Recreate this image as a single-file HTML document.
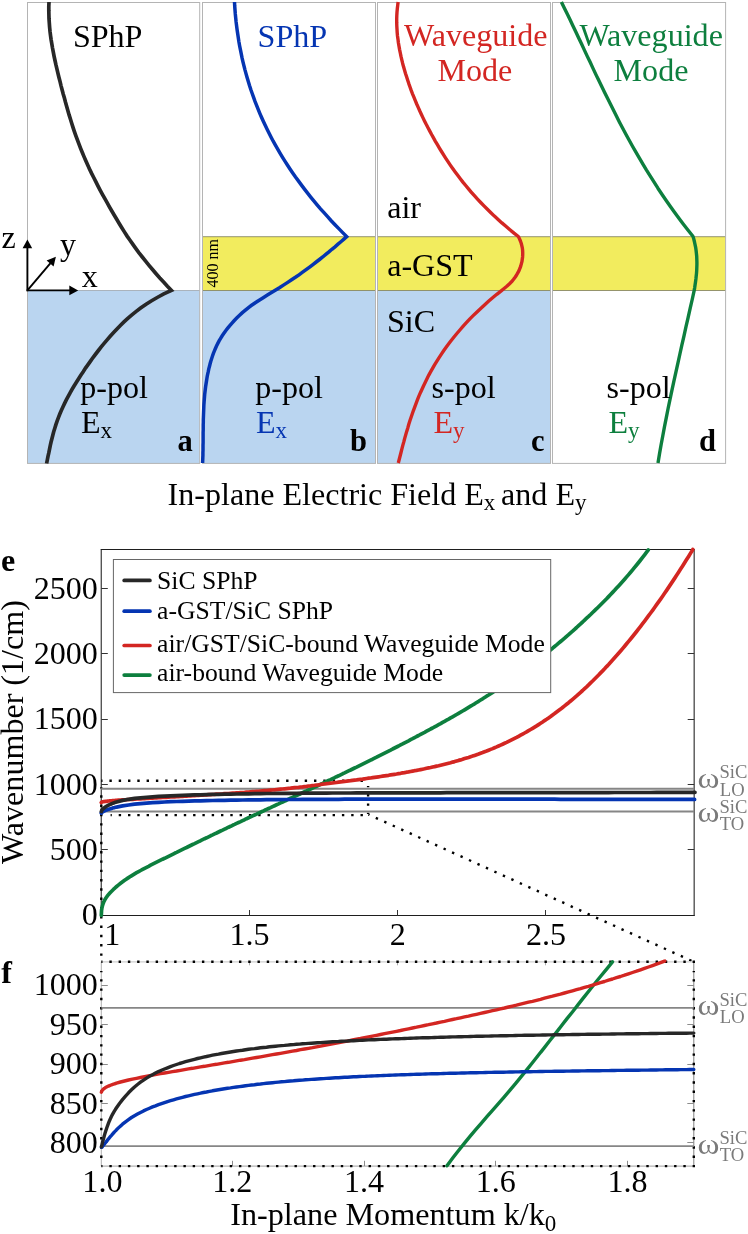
<!DOCTYPE html>
<html><head><meta charset="utf-8"><title>Figure</title>
<style>
html,body{margin:0;padding:0;background:#fff;}
body{width:748px;height:1234px;overflow:hidden;}
svg{display:block;}
text{font-family:"Liberation Serif",serif;}
.b{font-weight:bold;}
</style></head><body>
<svg width="748" height="1234" viewBox="0 0 748 1234">
<rect x="0" y="0" width="748" height="1234" fill="#fff"/>
<g id="all" opacity="0.999">
<rect x="27.50" y="290.50" width="172.20" height="172.90" fill="#bad5f0"/>
<rect x="202.50" y="290.50" width="173.00" height="172.90" fill="#bad5f0"/>
<rect x="377.50" y="290.50" width="173.00" height="172.90" fill="#bad5f0"/>
<rect x="202.50" y="236.70" width="173.00" height="53.80" fill="#f2ec5e"/>
<path d="M202.50 236.70H375.50M202.50 290.50H375.50" stroke="#6c6c50" stroke-width="0.7" fill="none"/>
<rect x="377.50" y="236.70" width="173.00" height="53.80" fill="#f2ec5e"/>
<path d="M377.50 236.70H550.50M377.50 290.50H550.50" stroke="#6c6c50" stroke-width="0.7" fill="none"/>
<rect x="552.50" y="236.70" width="173.10" height="53.80" fill="#f2ec5e"/>
<path d="M552.50 236.70H725.60M552.50 290.50H725.60" stroke="#6c6c50" stroke-width="0.7" fill="none"/>
<path d="M27.50 290.50H199.70" stroke="#8a8f96" stroke-width="0.6" fill="none"/>
<rect x="27.50" y="2.50" width="172.20" height="460.90" fill="none" stroke="#b4b4b4" stroke-width="1"/>
<rect x="202.50" y="2.50" width="173.00" height="460.90" fill="none" stroke="#b4b4b4" stroke-width="1"/>
<rect x="377.50" y="2.50" width="173.00" height="460.90" fill="none" stroke="#b4b4b4" stroke-width="1"/>
<rect x="552.50" y="2.50" width="173.10" height="460.90" fill="none" stroke="#b4b4b4" stroke-width="1"/>
<path d="M49.0 2.0L48.8 6.2L48.8 10.4L48.9 14.5L49.0 18.7L49.3 22.9L49.6 27.1L50.0 31.3L50.5 35.4L51.1 39.6L51.8 43.8L52.5 48.0L53.3 52.2L54.1 56.3L55.0 60.5L55.9 64.7L56.9 68.9L57.9 73.1L58.9 77.2L60.0 81.4L61.0 85.6L62.1 89.8L63.2 94.0L64.4 98.1L65.5 102.3L66.7 106.5L67.9 110.7L69.1 114.9L70.4 119.0L71.7 123.2L73.0 127.4L74.4 131.6L75.9 135.8L77.4 139.9L79.0 144.1L80.6 148.3L82.3 152.5L84.0 156.6L85.8 160.8L87.7 165.0L89.6 169.2L91.6 173.4L93.7 177.5L95.8 181.7L97.9 185.9L100.1 190.1L102.4 194.3L104.7 198.4L107.1 202.6L109.4 206.8L111.8 211.0L114.3 215.2L116.7 219.3L119.2 223.5L121.8 227.7L124.4 231.9L127.1 236.1L130.0 240.2L132.9 244.4L135.9 248.6L139.0 252.8L142.3 257.0L145.6 261.1L149.0 265.3L152.5 269.5L156.1 273.7L159.8 277.9L163.6 282.0L167.4 286.2L171.4 290.4L163.8 293.9L157.2 297.5L151.2 301.0L145.7 304.5L140.6 308.1L135.9 311.6L131.6 315.1L127.5 318.7L123.7 322.2L120.1 325.7L116.7 329.3L113.4 332.8L110.2 336.3L107.1 339.9L104.1 343.4L101.2 346.9L98.4 350.5L95.7 354.0L93.0 357.5L90.5 361.1L88.0 364.6L85.5 368.1L83.2 371.7L80.8 375.2L78.6 378.7L76.4 382.2L74.2 385.8L72.1 389.3L70.1 392.8L68.2 396.4L66.3 399.9L64.6 403.4L62.9 407.0L61.3 410.5L59.8 414.0L58.4 417.6L57.1 421.1L55.9 424.6L54.8 428.2L53.7 431.7L52.8 435.2L51.9 438.8L51.0 442.3L50.2 445.8L49.5 449.4L48.8 452.9L48.0 456.4L47.3 460.0L46.6 463.5" fill="none" stroke="#272727" stroke-width="3.7" stroke-linejoin="miter" stroke-miterlimit="10"/>
<path d="M234.5 2.0L234.7 6.0L235.0 10.0L235.3 13.9L235.7 17.9L236.1 21.9L236.6 25.9L237.1 29.8L237.7 33.8L238.3 37.8L238.9 41.8L239.6 45.7L240.4 49.7L241.2 53.7L242.0 57.7L242.9 61.6L243.9 65.6L244.9 69.6L246.0 73.6L247.1 77.5L248.3 81.5L249.5 85.5L250.8 89.5L252.2 93.5L253.6 97.4L255.0 101.4L256.6 105.4L258.2 109.4L259.8 113.3L261.5 117.3L263.3 121.3L265.2 125.3L267.1 129.2L269.1 133.2L271.1 137.2L273.2 141.2L275.4 145.1L277.7 149.1L280.0 153.1L282.4 157.1L284.9 161.1L287.4 165.0L290.0 169.0L292.7 173.0L295.5 177.0L298.4 180.9L301.3 184.9L304.3 188.9L307.4 192.9L310.5 196.8L313.8 200.8L317.1 204.8L320.5 208.8L324.0 212.7L327.6 216.7L331.2 220.7L335.0 224.7L338.8 228.6L342.7 232.6L346.7 236.6L343.9 239.1L340.9 241.7L338.0 244.2L335.0 246.8L331.9 249.3L328.9 251.9L325.8 254.4L322.7 257.0L319.5 259.5L316.2 262.0L312.9 264.6L309.6 267.1L306.1 269.7L302.6 272.2L299.0 274.8L295.4 277.3L291.6 279.8L287.7 282.4L283.8 284.9L279.8 287.5L275.7 290.0L271.5 292.6L267.4 295.1L263.2 297.7L259.2 300.2L255.3 302.7L251.6 305.3L248.2 307.8L245.1 310.4L242.1 312.9L239.3 315.5L236.7 318.0L234.3 320.5L232.0 323.1L229.8 325.6L227.7 328.2L225.7 330.7L223.9 333.3L222.2 335.8L220.6 338.4L219.1 340.9L217.8 343.4L216.5 346.0L215.4 348.5L214.3 351.1L213.3 353.6L212.4 356.2L211.6 358.7L210.8 361.2L210.1 363.8L209.5 366.3L208.8 368.9L208.3 371.4L207.7 374.0L207.2 376.5L206.8 379.1L206.4 381.6L206.0 384.1L205.6 386.7L205.3 389.2L205.0 391.8L204.7 394.3L204.5 396.9L204.3 399.4L204.1 401.9L203.9 404.5L203.8 407.0L203.7 409.6L203.6 412.1L203.5 414.7L203.4 417.2L203.3 419.8L203.3 422.3L203.2 424.8L203.2 427.4L203.2 429.9L203.1 432.5L203.1 435.0L203.1 437.6L203.1 440.1L203.1 442.6L203.0 445.2L203.0 447.7L203.0 450.3L202.9 452.8L202.9 455.4L202.8 457.9L202.7 460.5L202.6 463.0" fill="none" stroke="#0535b2" stroke-width="3.5" stroke-linejoin="miter" stroke-miterlimit="10"/>
<path d="M398.1 2.0L397.7 5.4L397.3 8.8L397.0 12.2L396.8 15.6L396.7 19.0L396.7 22.4L396.8 25.8L397.0 29.2L397.2 32.6L397.5 36.0L398.0 39.4L398.4 42.8L399.0 46.2L399.6 49.6L400.3 53.0L401.0 56.4L401.8 59.8L402.6 63.2L403.5 66.6L404.5 70.0L405.5 73.4L406.6 76.8L407.7 80.2L408.8 83.6L410.0 87.0L411.2 90.4L412.5 93.8L413.9 97.2L415.3 100.6L416.7 104.0L418.2 107.4L419.7 110.8L421.3 114.2L422.9 117.6L424.5 120.9L426.2 124.3L428.0 127.7L429.8 131.1L431.6 134.5L433.5 137.9L435.4 141.3L437.4 144.7L439.4 148.1L441.5 151.5L443.6 154.9L445.8 158.3L448.0 161.7L450.3 165.1L452.7 168.5L455.2 171.9L457.7 175.3L460.3 178.7L462.9 182.1L465.7 185.5L468.5 188.9L471.4 192.3L474.4 195.7L477.5 199.1L480.7 202.5L484.0 205.9L487.4 209.3L490.9 212.7L494.4 216.1L498.1 219.5L501.9 222.9L505.9 226.3L509.9 229.7L514.0 233.1L518.3 236.5L519.5 238.8L520.4 241.0L521.2 243.3L521.8 245.6L522.3 247.8L522.6 250.1L522.7 252.3L522.7 254.6L522.6 256.9L522.3 259.1L522.0 261.4L521.4 263.6L520.8 265.9L520.0 268.2L519.1 270.4L517.9 272.7L516.6 275.0L515.1 277.2L513.4 279.5L511.5 281.8L509.3 284.0L506.8 286.3L504.1 288.5L501.2 290.8L496.8 294.3L492.6 297.8L488.5 301.3L484.5 304.9L480.7 308.4L477.0 311.9L473.4 315.4L469.9 318.9L466.6 322.4L463.4 325.9L460.3 329.5L457.3 333.0L454.4 336.5L451.6 340.0L448.9 343.5L446.3 347.0L443.8 350.5L441.4 354.1L439.1 357.6L436.9 361.1L434.7 364.6L432.7 368.1L430.7 371.6L428.8 375.1L427.0 378.7L425.3 382.2L423.6 385.7L422.0 389.2L420.4 392.7L418.9 396.2L417.5 399.7L416.1 403.3L414.8 406.8L413.5 410.3L412.3 413.8L411.1 417.3L409.9 420.8L408.8 424.3L407.8 427.9L406.7 431.4L405.7 434.9L404.7 438.4L403.8 441.9L402.8 445.4L401.9 448.9L401.0 452.5L400.1 456.0L399.2 459.5L398.3 463.0" fill="none" stroke="#d32622" stroke-width="3.4" stroke-linejoin="round"/>
<path d="M561.4 2.0L564.3 8.0L567.3 14.0L570.2 20.0L573.0 26.0L575.9 32.0L578.7 38.0L581.6 44.1L584.4 50.1L587.2 56.1L590.1 62.1L592.9 68.1L595.7 74.1L598.6 80.1L601.5 86.1L604.4 92.1L607.4 98.1L610.4 104.1L613.4 110.1L616.4 116.1L619.5 122.2L622.7 128.2L625.9 134.2L629.2 140.2L632.5 146.2L635.9 152.2L639.4 158.2L642.9 164.2L646.5 170.2L650.3 176.2L654.1 182.2L657.9 188.2L661.9 194.2L666.0 200.3L670.2 206.3L674.5 212.3L678.9 218.3L683.4 224.3L688.1 230.3L692.9 236.3L693.8 239.1L694.5 242.0L695.1 244.8L695.7 247.7L696.1 250.5L696.4 253.4L696.7 256.2L696.8 259.1L696.9 261.9L696.9 264.8L696.8 267.6L696.7 270.5L696.5 273.3L696.2 276.2L695.9 279.0L695.5 281.9L695.1 284.7L694.7 287.6L694.2 290.4L692.2 299.5L690.1 308.6L688.1 317.7L686.0 326.7L684.0 335.8L681.9 344.9L679.9 354.0L677.9 363.1L675.9 372.2L673.9 381.2L671.9 390.3L670.0 399.4L668.1 408.5L666.3 417.6L664.5 426.7L662.8 435.7L661.1 444.8L659.5 453.9L658.0 463.0" fill="none" stroke="#0d7f3e" stroke-width="3.4" stroke-linejoin="round"/>
<g stroke="#000" stroke-width="1.9" fill="#000">
<path d="M27.4 291.2V246" fill="none"/>
<path d="M26.6 290.4H70" fill="none"/>
<path d="M27.4 290.4L50.5 263.1" fill="none"/>
<path d="M27.4 239.6L32.2 248.2H22.6Z" stroke="none"/>
<path d="M78.2 290.4L69.3 295.2V285.6Z" stroke="none"/>
<path d="M55.9 256.7L53.6 266.6L46.6 260.6Z" stroke="none"/>
</g>
<text x="1.60" y="248.00" font-size="32.10" fill="#000">z</text>
<text x="59.90" y="254.70" font-size="32.10" fill="#000">y</text>
<text x="81.80" y="286.80" font-size="32.10" fill="#000">x</text>
<text x="72.90" y="46.70" font-size="32.10" fill="#000">SPhP</text>
<text x="257.60" y="46.50" font-size="32.10" fill="#0535b2">SPhP</text>
<text x="404.00" y="46.20" font-size="32.10" fill="#d32622">Waveguide</text>
<text x="437.50" y="80.80" font-size="32.10" fill="#d32622">Mode</text>
<text x="579.40" y="46.20" font-size="32.10" fill="#0d7f3e">Waveguide</text>
<text x="613.60" y="80.80" font-size="32.10" fill="#0d7f3e">Mode</text>
<text x="387.20" y="218.40" font-size="32.10" fill="#000">air</text>
<text x="387.20" y="275.70" font-size="32.10" fill="#000">a-GST</text>
<text x="387.00" y="332.10" font-size="32.10" fill="#000">SiC</text>
<text x="80.20" y="398.10" font-size="32.10" fill="#000">p-pol</text>
<text x="255.20" y="398.10" font-size="32.10" fill="#000">p-pol</text>
<text x="431.60" y="398.10" font-size="32.10" fill="#000">s-pol</text>
<text x="606.60" y="398.10" font-size="32.10" fill="#000">s-pol</text>
<text x="81.00" y="433.20" font-size="32.10" fill="#000">E<tspan font-size="23.00" dy="5.1">x</tspan></text>
<text x="256.00" y="433.20" font-size="32.10" fill="#0535b2">E<tspan font-size="23.00" dy="5.1">x</tspan></text>
<text x="433.50" y="433.20" font-size="32.10" fill="#d32622">E<tspan font-size="23.00" dy="5.1">y</tspan></text>
<text x="608.50" y="433.20" font-size="32.10" fill="#0d7f3e">E<tspan font-size="23.00" dy="5.1">y</tspan></text>
<text x="177.60" y="450.50" font-size="30.50" fill="#000" class="b">a</text>
<text x="350.00" y="450.50" font-size="30.50" fill="#000" class="b">b</text>
<text x="531.00" y="450.50" font-size="30.50" fill="#000" class="b">c</text>
<text x="699.00" y="450.50" font-size="30.50" fill="#000" class="b">d</text>
<text transform="translate(217.6 287.4) rotate(-90)" font-size="16">400 nm</text>
<text x="167.6" y="505.3" font-size="32.10">In-plane Electric Field E<tspan font-size="23.00" dy="5.1">x&#160;</tspan><tspan dy="-5.1">and E</tspan><tspan font-size="23.00" dy="5.1">y</tspan></text>
<path d="M101.30 549.50V915.50M694.20 549.50V915.50" stroke="#555" stroke-width="1.4" fill="none"/>
<path d="M100.70 549.50H694.80M102.80 915.50H694.80" stroke="#1e1e1e" stroke-width="1" fill="none"/>
<path d="M101.30 849.50h6.5M694.20 849.50h-6.5M101.30 784.50h6.5M694.20 784.50h-6.5M101.30 719.50h6.5M694.20 719.50h-6.5M101.30 653.50h6.5M694.20 653.50h-6.5M101.30 588.50h6.5M694.20 588.50h-6.5M249.50 915.50v-5.5M397.50 915.50v-5.5M545.50 915.50v-5.5" stroke="#333" stroke-width="1" fill="none"/>
<path d="M101.30 780.80H367.10" stroke="#000" stroke-width="2.4" stroke-dasharray="2.4 6.90" stroke-dashoffset="1.2" fill="none"/>
<path d="M110.60 815.10H367.10" stroke="#000" stroke-width="2.4" stroke-dasharray="2.4 6.90" stroke-dashoffset="1.2" fill="none"/>
<path d="M368.10 786.00V814.10" stroke="#000" stroke-width="2.4" stroke-dasharray="2.4 6.90" stroke-dashoffset="1.2" fill="none"/>
<path d="M101.30 787.20V958.80" stroke="#000" stroke-width="2.4" stroke-dasharray="2.4 6.90" stroke-dashoffset="1.2" fill="none"/>
<path d="M368.40 814.50L693.80 961.80" stroke="#000" stroke-width="2.4" stroke-dasharray="2.4 6.90" stroke-dashoffset="1.2" fill="none"/>
<path d="M101.30 788.70H694.20" stroke="#868686" stroke-width="1.9" fill="none"/>
<path d="M101.30 811.50H694.20" stroke="#868686" stroke-width="1.9" fill="none"/>
<g fill="none" stroke-width="3.7" stroke-linejoin="round" stroke-linecap="round">
<path d="M101.3 915.4L101.5 911.5L101.6 910.0L101.8 908.9L101.9 908.0L102.1 907.2L102.2 906.6L102.4 905.9L102.8 904.5L103.2 903.4L103.6 902.3L104.0 901.4L104.4 900.6L104.8 899.8L105.2 899.1L105.6 898.5L106.6 897.0L107.6 895.6L108.6 894.4L109.6 893.3L110.6 892.2L111.6 891.2L112.6 890.2L113.6 889.2L114.6 888.3L115.6 887.4L116.6 886.5L118.6 884.9L120.6 883.3L122.6 881.8L124.6 880.3L126.6 878.9L128.6 877.6L130.6 876.3L132.6 875.1L134.6 873.9L136.6 872.7L138.6 871.6L140.6 870.5L142.6 869.4L144.6 868.3L146.6 867.3L148.6 866.3L150.6 865.2L152.6 864.2L154.6 863.2L156.6 862.2L158.6 861.2L160.6 860.2L162.6 859.2L164.6 858.3L166.6 857.3L168.6 856.3L170.6 855.3L172.6 854.3L174.6 853.3L176.6 852.4L178.6 851.4L180.6 850.4L182.6 849.4L184.6 848.4L186.6 847.5L188.6 846.5L190.6 845.5L192.6 844.5L194.6 843.6L196.6 842.6L198.6 841.6L200.6 840.7L202.6 839.7L204.6 838.7L206.6 837.8L208.6 836.8L210.6 835.8L212.6 834.9L214.6 833.9L216.6 833.0L218.6 832.0L220.6 831.0L222.6 830.1L224.6 829.1L226.6 828.2L228.6 827.2L230.6 826.3L232.6 825.3L234.6 824.4L236.6 823.4L238.6 822.5L240.6 821.6L242.6 820.6L244.6 819.7L246.6 818.7L248.6 817.8L250.6 816.9L252.6 815.9L254.6 815.0L256.6 814.1L258.6 813.1L260.6 812.2L262.6 811.3L264.6 810.3L266.6 809.4L268.6 808.5L270.6 807.6L272.6 806.6L274.6 805.7L276.6 804.8L278.6 803.9L280.6 802.9L282.6 802.0L284.6 801.1L286.6 800.2L288.6 799.2L290.6 798.3L292.6 797.4L294.6 796.4L296.6 795.5L298.6 794.6L300.6 793.7L302.6 792.7L304.6 791.8L306.6 790.9L308.6 789.9L310.6 789.0L312.6 788.1L314.6 787.1L316.6 786.2L318.6 785.3L320.6 784.3L322.6 783.4L324.6 782.4L326.6 781.5L328.6 780.5L330.6 779.6L332.6 778.6L334.6 777.7L336.6 776.7L338.6 775.8L340.6 774.8L342.6 773.8L344.6 772.9L346.6 771.9L348.6 770.9L350.6 770.0L352.6 769.0L354.6 768.0L356.6 767.1L358.6 766.1L360.6 765.1L362.6 764.1L364.6 763.1L366.6 762.1L368.6 761.1L370.6 760.1L372.6 759.2L374.6 758.2L376.6 757.2L378.6 756.1L380.6 755.1L382.6 754.1L384.6 753.1L386.6 752.1L388.6 751.1L390.6 750.1L392.6 749.0L394.6 748.0L396.6 747.0L398.6 746.0L400.6 744.9L402.6 743.9L404.6 742.8L406.6 741.8L408.6 740.8L410.6 739.7L412.6 738.7L414.6 737.6L416.6 736.5L418.6 735.5L420.6 734.4L422.6 733.3L424.6 732.3L426.6 731.2L428.6 730.1L430.6 729.0L432.6 728.0L434.6 726.9L436.6 725.8L438.6 724.7L440.6 723.6L442.6 722.4L444.6 721.3L446.6 720.2L448.6 719.1L450.6 717.9L452.6 716.8L454.6 715.7L456.6 714.5L458.6 713.3L460.6 712.2L462.6 711.0L464.6 709.8L466.6 708.6L468.6 707.4L470.6 706.2L472.6 705.0L474.6 703.8L476.6 702.5L478.6 701.3L480.6 700.0L482.6 698.8L484.6 697.5L486.6 696.2L488.6 695.0L490.6 693.7L492.6 692.4L494.6 691.0L496.6 689.7L498.6 688.4L500.6 687.0L502.6 685.7L504.6 684.3L506.6 682.9L508.6 681.6L510.6 680.2L512.6 678.8L514.6 677.3L516.6 675.9L518.6 674.5L520.6 673.0L522.6 671.6L524.6 670.1L526.6 668.6L528.6 667.1L530.6 665.6L532.6 664.1L534.6 662.5L536.6 661.0L538.6 659.4L540.6 657.9L542.6 656.3L544.6 654.7L546.6 653.1L548.6 651.5L550.6 649.8L552.6 648.2L554.6 646.5L556.6 644.9L558.6 643.2L560.6 641.5L562.6 639.8L564.6 638.1L566.6 636.3L568.6 634.6L570.6 632.8L572.6 631.1L574.6 629.3L576.6 627.5L578.6 625.6L580.6 623.8L582.6 622.0L584.6 620.1L586.6 618.2L588.6 616.4L590.6 614.5L592.6 612.5L594.6 610.6L596.6 608.7L598.6 606.7L600.6 604.7L602.6 602.7L604.6 600.7L606.6 598.7L608.6 596.6L610.6 594.5L612.6 592.4L614.6 590.3L616.6 588.1L618.6 585.9L620.6 583.7L622.6 581.5L624.6 579.2L626.6 576.9L628.6 574.6L630.6 572.3L632.6 569.9L634.6 567.4L636.6 565.0L638.6 562.5L640.6 560.0L642.6 557.4L644.6 554.8L646.6 552.2L648.3 549.9" stroke="#0d7f3e"/>
<path d="M101.3 813.1L101.5 812.8L101.6 812.6L101.8 812.5L101.9 812.3L102.1 812.2L102.2 812.1L102.4 812.0L102.8 811.8L103.2 811.5L103.6 811.3L104.0 811.1L104.4 810.9L104.8 810.8L105.2 810.6L105.6 810.4L106.6 810.0L107.6 809.6L108.6 809.3L109.6 809.0L110.6 808.7L111.6 808.4L112.6 808.1L113.6 807.8L114.6 807.6L115.6 807.3L116.6 807.1L122.6 805.9L128.6 805.0L134.6 804.2L140.6 803.6L146.6 803.1L152.6 802.7L158.6 802.3L164.6 802.0L170.6 801.7L176.6 801.5L182.6 801.3L188.6 801.1L194.6 800.9L200.6 800.8L206.6 800.6L212.6 800.5L218.6 800.4L224.6 800.3L230.6 800.2L236.6 800.1L242.6 800.0L248.6 799.9L254.6 799.8L260.6 799.8L266.6 799.7L272.6 799.6L278.6 799.6L284.6 799.5L290.6 799.5L296.6 799.5L302.6 799.4L308.6 799.4L314.6 799.4L320.6 799.3L326.6 799.3L332.6 799.3L338.6 799.3L344.6 799.2L350.6 799.2L356.6 799.2L362.6 799.2L368.6 799.2L374.6 799.2L380.6 799.2L386.6 799.2L392.6 799.2L398.6 799.1L404.6 799.1L410.6 799.1L416.6 799.1L422.6 799.1L428.6 799.1L434.6 799.1L440.6 799.1L446.6 799.1L452.6 799.1L458.6 799.2L464.6 799.2L470.6 799.2L476.6 799.2L482.6 799.2L488.6 799.2L494.6 799.2L500.6 799.2L506.6 799.2L512.6 799.2L518.6 799.2L524.6 799.2L530.6 799.2L536.6 799.2L542.6 799.2L548.6 799.2L554.6 799.2L560.6 799.3L566.6 799.3L572.6 799.3L578.6 799.3L584.6 799.3L590.6 799.3L596.6 799.3L602.6 799.3L608.6 799.3L614.6 799.3L620.6 799.3L626.6 799.3L632.6 799.3L638.6 799.3L644.6 799.3L650.6 799.3L656.6 799.3L662.6 799.4L668.6 799.4L674.6 799.4L680.6 799.4L686.6 799.4L692.6 799.4L694.6 799.4" stroke="#0535b2"/>
<path d="M101.3 802.5L101.5 802.3L101.6 802.2L101.8 802.1L101.9 802.1L102.1 802.0L102.2 802.0L102.4 801.9L102.8 801.8L103.2 801.7L103.6 801.7L104.0 801.6L104.4 801.5L104.8 801.5L105.2 801.4L105.6 801.4L106.6 801.3L107.6 801.1L108.6 801.0L109.6 800.9L110.6 800.8L111.6 800.8L112.6 800.7L113.6 800.6L114.6 800.5L115.6 800.4L116.6 800.4L118.6 800.2L120.6 800.1L122.6 799.9L124.6 799.8L126.6 799.7L128.6 799.5L130.6 799.4L132.6 799.3L134.6 799.2L136.6 799.0L138.6 798.9L140.6 798.8L142.6 798.7L144.6 798.6L146.6 798.5L148.6 798.3L150.6 798.2L152.6 798.1L154.6 798.0L156.6 797.9L158.6 797.7L160.6 797.6L162.6 797.5L164.6 797.4L166.6 797.3L168.6 797.2L170.6 797.0L172.6 796.9L174.6 796.8L176.6 796.7L178.6 796.6L180.6 796.5L182.6 796.3L184.6 796.2L186.6 796.1L188.6 796.0L190.6 795.9L192.6 795.7L194.6 795.6L196.6 795.5L198.6 795.4L200.6 795.2L202.6 795.1L204.6 795.0L206.6 794.9L208.6 794.7L210.6 794.6L212.6 794.5L214.6 794.4L216.6 794.2L218.6 794.1L220.6 794.0L222.6 793.9L224.6 793.7L226.6 793.6L228.6 793.5L230.6 793.3L232.6 793.2L234.6 793.1L236.6 792.9L238.6 792.8L240.6 792.6L242.6 792.5L244.6 792.4L246.6 792.2L248.6 792.1L250.6 791.9L252.6 791.7L254.6 791.6L256.6 791.4L258.6 791.3L260.6 791.1L262.6 790.9L264.6 790.7L266.6 790.6L268.6 790.4L270.6 790.2L272.6 790.0L274.6 789.8L276.6 789.6L278.6 789.4L280.6 789.2L282.6 789.0L284.6 788.8L286.6 788.6L288.6 788.4L290.6 788.2L292.6 787.9L294.6 787.7L296.6 787.5L298.6 787.3L300.6 787.0L302.6 786.8L304.6 786.5L306.6 786.3L308.6 786.0L310.6 785.8L312.6 785.5L314.6 785.3L316.6 785.0L318.6 784.8L320.6 784.5L322.6 784.2L324.6 784.0L326.6 783.7L328.6 783.5L330.6 783.2L332.6 783.0L334.6 782.7L336.6 782.5L338.6 782.2L340.6 781.9L342.6 781.7L344.6 781.4L346.6 781.2L348.6 780.9L350.6 780.7L352.6 780.4L354.6 780.1L356.6 779.9L358.6 779.6L360.6 779.3L362.6 779.1L364.6 778.8L366.6 778.5L368.6 778.2L370.6 778.0L372.6 777.7L374.6 777.4L376.6 777.1L378.6 776.8L380.6 776.5L382.6 776.2L384.6 775.9L386.6 775.6L388.6 775.3L390.6 774.9L392.6 774.6L394.6 774.3L396.6 774.0L398.6 773.6L400.6 773.3L402.6 772.9L404.6 772.6L406.6 772.2L408.6 771.9L410.6 771.5L412.6 771.1L414.6 770.7L416.6 770.4L418.6 770.0L420.6 769.6L422.6 769.2L424.6 768.8L426.6 768.3L428.6 767.9L430.6 767.5L432.6 767.0L434.6 766.6L436.6 766.1L438.6 765.7L440.6 765.2L442.6 764.7L444.6 764.2L446.6 763.7L448.6 763.2L450.6 762.7L452.6 762.1L454.6 761.6L456.6 761.0L458.6 760.4L460.6 759.9L462.6 759.3L464.6 758.6L466.6 758.0L468.6 757.4L470.6 756.7L472.6 756.1L474.6 755.4L476.6 754.7L478.6 754.0L480.6 753.2L482.6 752.5L484.6 751.7L486.6 751.0L488.6 750.2L490.6 749.4L492.6 748.6L494.6 747.7L496.6 746.9L498.6 746.0L500.6 745.1L502.6 744.2L504.6 743.3L506.6 742.4L508.6 741.4L510.6 740.4L512.6 739.4L514.6 738.4L516.6 737.4L518.6 736.3L520.6 735.2L522.6 734.1L524.6 733.0L526.6 731.9L528.6 730.7L530.6 729.5L532.6 728.3L534.6 727.1L536.6 725.9L538.6 724.6L540.6 723.3L542.6 722.0L544.6 720.6L546.6 719.3L548.6 717.9L550.6 716.5L552.6 715.0L554.6 713.6L556.6 712.1L558.6 710.6L560.6 709.1L562.6 707.5L564.6 705.9L566.6 704.3L568.6 702.7L570.6 701.0L572.6 699.3L574.6 697.6L576.6 695.9L578.6 694.1L580.6 692.3L582.6 690.5L584.6 688.6L586.6 686.8L588.6 684.9L590.6 682.9L592.6 681.0L594.6 679.0L596.6 677.0L598.6 675.0L600.6 672.9L602.6 670.9L604.6 668.8L606.6 666.6L608.6 664.5L610.6 662.3L612.6 660.1L614.6 657.8L616.6 655.6L618.6 653.3L620.6 651.0L622.6 648.6L624.6 646.2L626.6 643.8L628.6 641.4L630.6 639.0L632.6 636.5L634.6 634.0L636.6 631.5L638.6 628.9L640.6 626.3L642.6 623.7L644.6 621.1L646.6 618.4L648.6 615.7L650.6 613.0L652.6 610.3L654.6 607.5L656.6 604.7L658.6 601.9L660.6 599.1L662.6 596.2L664.6 593.3L666.6 590.4L668.6 587.4L670.6 584.4L672.6 581.4L674.6 578.4L676.6 575.3L678.6 572.2L680.6 569.1L682.6 566.0L684.6 562.8L686.6 559.6L688.6 556.4L690.6 553.1L692.6 549.9L692.8 549.5" stroke="#d32622"/>
<path d="M101.3 811.6L101.5 811.0L101.6 810.6L101.8 810.4L101.9 810.2L102.1 810.0L102.2 809.8L102.4 809.6L102.8 809.1L103.2 808.8L103.6 808.4L104.0 808.0L104.4 807.7L104.8 807.4L105.2 807.1L105.6 806.9L106.6 806.2L107.6 805.7L108.6 805.1L109.6 804.6L110.6 804.2L111.6 803.8L112.6 803.4L113.6 803.0L114.6 802.6L115.6 802.3L116.6 802.0L122.6 800.4L128.6 799.3L134.6 798.4L140.6 797.8L146.6 797.3L152.6 796.8L158.6 796.4L164.6 796.1L170.6 795.8L176.6 795.6L182.6 795.3L188.6 795.1L194.6 794.9L200.6 794.8L206.6 794.6L212.6 794.4L218.6 794.3L224.6 794.2L230.6 794.1L236.6 794.0L242.6 793.9L248.6 793.8L254.6 793.7L260.6 793.6L266.6 793.5L272.6 793.5L278.6 793.4L284.6 793.4L290.6 793.3L296.6 793.3L302.6 793.2L308.6 793.2L314.6 793.1L320.6 793.1L326.6 793.1L332.6 793.0L338.6 793.0L344.6 793.0L350.6 793.0L356.6 792.9L362.6 792.9L368.6 792.9L374.6 792.9L380.6 792.9L386.6 792.8L392.6 792.8L398.6 792.8L404.6 792.8L410.6 792.8L416.6 792.8L422.6 792.8L428.6 792.8L434.6 792.8L440.6 792.8L446.6 792.7L452.6 792.7L458.6 792.7L464.6 792.7L470.6 792.7L476.6 792.7L482.6 792.7L488.6 792.7L494.6 792.7L500.6 792.7L506.6 792.7L512.6 792.7L518.6 792.7L524.6 792.7L530.6 792.7L536.6 792.7L542.6 792.6L548.6 792.6L554.6 792.6L560.6 792.6L566.6 792.6L572.6 792.6L578.6 792.6L584.6 792.6L590.6 792.6L596.6 792.6L602.6 792.6L608.6 792.6L614.6 792.5L620.6 792.5L626.6 792.5L632.6 792.5L638.6 792.5L644.6 792.5L650.6 792.5L656.6 792.4L662.6 792.4L668.6 792.4L674.6 792.4L680.6 792.4L686.6 792.4L692.6 792.3L695.0 792.3" stroke="#272727"/>
</g>
<text x="97.80" y="925.30" font-size="32.10" fill="#000" text-anchor="end">0</text>
<text x="97.80" y="859.95" font-size="32.10" fill="#000" text-anchor="end">500</text>
<text x="97.80" y="794.60" font-size="32.10" fill="#000" text-anchor="end">1000</text>
<text x="97.80" y="729.25" font-size="32.10" fill="#000" text-anchor="end">1500</text>
<text x="97.80" y="663.90" font-size="32.10" fill="#000" text-anchor="end">2000</text>
<text x="97.80" y="598.55" font-size="32.10" fill="#000" text-anchor="end">2500</text>
<text x="104.20" y="945.20" font-size="32.10" fill="#000">1</text>
<text x="249.53" y="944.50" font-size="32.10" fill="#000" text-anchor="middle">1.5</text>
<text x="397.75" y="944.50" font-size="32.10" fill="#000" text-anchor="middle">2</text>
<text x="545.98" y="944.50" font-size="32.10" fill="#000" text-anchor="middle">2.5</text>
<text transform="translate(23.2 732) rotate(-90)" font-size="32.10" text-anchor="middle">Wavenumber (1/cm)</text>
<text x="1.00" y="571.20" font-size="32.10" fill="#000" class="b">e</text>
<text x="1.30" y="983.00" font-size="32.10" fill="#000" class="b">f</text>
<rect x="113.40" y="559.50" width="437.30" height="133.10" fill="#fff" stroke="#666" stroke-width="1"/>
<path d="M124.2 580.40H149.9" stroke="#272727" stroke-width="3.7" stroke-linecap="round" fill="none"/>
<text x="157.10" y="589.10" font-size="25.65" fill="#000">SiC SPhP</text>
<path d="M124.2 611.20H149.9" stroke="#0535b2" stroke-width="3.7" stroke-linecap="round" fill="none"/>
<text x="157.10" y="619.30" font-size="25.65" fill="#000">a-GST/SiC SPhP</text>
<path d="M124.2 645.50H149.9" stroke="#d32622" stroke-width="3.7" stroke-linecap="round" fill="none"/>
<text x="157.10" y="652.30" font-size="25.65" fill="#000">air/GST/SiC-bound Waveguide Mode</text>
<path d="M124.2 675.10H149.9" stroke="#0d7f3e" stroke-width="3.7" stroke-linecap="round" fill="none"/>
<text x="157.10" y="681.10" font-size="25.65" fill="#000">air-bound Waveguide Mode</text>
<text transform="translate(697.50 788.00) scale(1.17 1)" font-size="28.5" fill="#7a7a7a">ω</text>
<text x="719.50" y="778.40" font-size="18.6" fill="#7a7a7a">SiC</text>
<text x="719.80" y="795.70" font-size="18.6" fill="#7a7a7a">LO</text>
<text transform="translate(697.50 822.40) scale(1.17 1)" font-size="28.5" fill="#7a7a7a">ω</text>
<text x="719.50" y="812.80" font-size="18.6" fill="#7a7a7a">SiC</text>
<text x="719.80" y="830.10" font-size="18.6" fill="#7a7a7a">TO</text>
<text transform="translate(697.50 1015.20) scale(1.17 1)" font-size="28.5" fill="#7a7a7a">ω</text>
<text x="719.50" y="1005.60" font-size="18.6" fill="#7a7a7a">SiC</text>
<text x="719.80" y="1022.90" font-size="18.6" fill="#7a7a7a">LO</text>
<text transform="translate(697.50 1153.70) scale(1.17 1)" font-size="28.5" fill="#7a7a7a">ω</text>
<text x="719.50" y="1144.10" font-size="18.6" fill="#7a7a7a">SiC</text>
<text x="719.80" y="1161.40" font-size="18.6" fill="#7a7a7a">TO</text>
<path d="M101.30 961.80H693.80" stroke="#cfcfcf" stroke-width="1.2" fill="none"/>
<path d="M101.30 1166.10H693.80" stroke="#a0a0a0" stroke-width="1" fill="none"/>
<path d="M101.30 961.80V1166.10" stroke="#b0b0b0" stroke-width="1" fill="none"/>
<path d="M693.80 961.80V1166.10" stroke="#808080" stroke-width="1" fill="none"/>
<path d="M101.30 1142.50h6.5M693.80 1142.50h-6.5M101.30 1103.50h6.5M693.80 1103.50h-6.5M101.30 1064.50h6.5M693.80 1064.50h-6.5M101.30 1024.50h6.5M693.80 1024.50h-6.5M101.30 985.50h6.5M693.80 985.50h-6.5M232.50 1166.10v-5.3M364.50 1166.10v-5.3M495.50 1166.10v-5.3M627.50 1166.10v-5.3" stroke="#8c8c8c" stroke-width="1" fill="none"/>
<path d="M249.50 961.80v3.5M397.50 961.80v3.5M545.50 961.80v3.5" stroke="#999" stroke-width="0.8" fill="none"/>
<path d="M101.30 961.80H695.00" stroke="#000" stroke-width="2.4" stroke-dasharray="2.4 6.858" stroke-dashoffset="1.2" fill="none"/>
<path d="M101.30 1166.10H695.00" stroke="#000" stroke-width="2.4" stroke-dasharray="2.4 6.858" stroke-dashoffset="1.2" fill="none"/>
<path d="M101.30 971.09V1164.10" stroke="#000" stroke-width="2.4" stroke-dasharray="2.4 6.886" stroke-dashoffset="1.2" fill="none"/>
<path d="M693.80 971.09V1164.10" stroke="#000" stroke-width="2.4" stroke-dasharray="2.4 6.886" stroke-dashoffset="1.2" fill="none"/>
<path d="M101.30 1007.80H693.80" stroke="#868686" stroke-width="1.8" fill="none"/>
<path d="M101.30 1146.20H693.80" stroke="#868686" stroke-width="1.8" fill="none"/>
<g fill="none" stroke-width="3.4" stroke-linejoin="round" stroke-linecap="round">
<path d="M447.0 1165.8L452.7 1158.1L458.4 1150.7L464.1 1143.6L469.8 1136.6L475.5 1129.9L481.2 1123.3L486.9 1116.7L492.7 1110.2L498.4 1103.7L504.1 1097.1L509.8 1090.4L515.5 1083.6L521.2 1076.7L526.9 1069.6L532.6 1062.5L538.3 1055.3L544.0 1048.1L549.7 1040.8L555.4 1033.6L561.1 1026.2L566.8 1018.9L572.6 1011.7L578.3 1004.4L584.0 997.1L589.7 990.0L595.4 982.8L601.1 975.7L606.8 968.8L612.5 961.9" stroke="#0d7f3e"/>
<path d="M101.4 1147.3L101.6 1147.3L101.7 1147.3L101.9 1147.2L102.0 1147.0L102.2 1146.9L102.3 1146.7L102.7 1146.3L103.1 1145.8L103.5 1145.3L103.9 1144.8L104.3 1144.2L104.7 1143.7L105.1 1143.2L105.5 1142.7L106.5 1141.4L107.5 1140.1L108.5 1138.8L109.5 1137.6L110.5 1136.4L111.5 1135.3L112.5 1134.1L113.5 1133.0L114.5 1131.9L115.5 1130.9L116.5 1129.8L119.5 1126.9L122.5 1124.2L125.5 1121.8L128.5 1119.6L131.5 1117.5L134.5 1115.7L137.5 1114.0L140.5 1112.4L143.5 1110.9L146.5 1109.5L149.5 1108.2L152.5 1106.9L155.5 1105.8L158.5 1104.6L161.5 1103.6L164.5 1102.6L167.5 1101.6L170.5 1100.7L173.5 1099.8L176.5 1098.9L179.5 1098.1L182.5 1097.3L185.5 1096.5L188.5 1095.8L191.5 1095.1L194.5 1094.4L197.5 1093.8L200.5 1093.2L203.5 1092.5L206.5 1092.0L209.5 1091.4L212.5 1090.8L215.5 1090.3L218.5 1089.8L221.5 1089.3L224.5 1088.8L227.5 1088.3L230.5 1087.9L233.5 1087.4L236.5 1087.0L239.5 1086.6L242.5 1086.2L245.5 1085.8L248.5 1085.4L251.5 1085.0L254.5 1084.7L257.5 1084.3L260.5 1084.0L263.5 1083.6L266.5 1083.3L269.5 1083.0L272.5 1082.7L275.5 1082.4L278.5 1082.1L281.5 1081.8L284.5 1081.6L287.5 1081.3L290.5 1081.0L293.5 1080.8L296.5 1080.5L299.5 1080.3L302.5 1080.1L305.5 1079.8L308.5 1079.6L311.5 1079.4L314.5 1079.2L317.5 1079.0L320.5 1078.8L323.5 1078.6L326.5 1078.4L329.5 1078.2L332.5 1078.0L335.5 1077.8L338.5 1077.7L341.5 1077.5L344.5 1077.3L347.5 1077.2L350.5 1077.0L353.5 1076.8L356.5 1076.7L359.5 1076.5L362.5 1076.4L365.5 1076.3L368.5 1076.1L371.5 1076.0L374.5 1075.9L377.5 1075.7L380.5 1075.6L383.5 1075.5L386.5 1075.4L389.5 1075.2L392.5 1075.1L395.5 1075.0L398.5 1074.9L401.5 1074.8L404.5 1074.7L407.5 1074.6L410.5 1074.5L413.5 1074.4L416.5 1074.3L419.5 1074.2L422.5 1074.1L425.5 1074.0L428.5 1073.9L431.5 1073.8L434.5 1073.7L437.5 1073.7L440.5 1073.6L443.5 1073.5L446.5 1073.4L449.5 1073.3L452.5 1073.3L455.5 1073.2L458.5 1073.1L461.5 1073.0L464.5 1073.0L467.5 1072.9L470.5 1072.8L473.5 1072.8L476.5 1072.7L479.5 1072.6L482.5 1072.6L485.5 1072.5L488.5 1072.4L491.5 1072.4L494.5 1072.3L497.5 1072.3L500.5 1072.2L503.5 1072.2L506.5 1072.1L509.5 1072.0L512.5 1072.0L515.5 1071.9L518.5 1071.9L521.5 1071.8L524.5 1071.8L527.5 1071.7L530.5 1071.7L533.5 1071.6L536.5 1071.6L539.5 1071.5L542.5 1071.5L545.5 1071.4L548.5 1071.4L551.5 1071.4L554.5 1071.3L557.5 1071.3L560.5 1071.2L563.5 1071.2L566.5 1071.1L569.5 1071.1L572.5 1071.0L575.5 1071.0L578.5 1071.0L581.5 1070.9L584.5 1070.9L587.5 1070.8L590.5 1070.8L593.5 1070.8L596.5 1070.7L599.5 1070.7L602.5 1070.6L605.5 1070.6L608.5 1070.6L611.5 1070.5L614.5 1070.5L617.5 1070.4L620.5 1070.4L623.5 1070.4L626.5 1070.3L629.5 1070.3L632.5 1070.3L635.5 1070.2L638.5 1070.2L641.5 1070.1L644.5 1070.1L647.5 1070.1L650.5 1070.0L653.5 1070.0L656.5 1070.0L659.5 1069.9L662.5 1069.9L665.5 1069.8L668.5 1069.8L671.5 1069.8L674.5 1069.7L677.5 1069.7L680.5 1069.6L683.5 1069.6L686.5 1069.6L689.5 1069.5L692.5 1069.5L693.8 1069.5" stroke="#0535b2"/>
<path d="M101.4 1092.2L101.6 1091.7L101.7 1091.3L101.9 1091.0L102.0 1090.8L102.2 1090.5L102.3 1090.3L102.7 1089.8L103.1 1089.4L103.5 1089.1L103.9 1088.7L104.3 1088.4L104.7 1088.2L105.1 1087.9L105.5 1087.6L106.5 1087.1L107.5 1086.6L108.5 1086.1L109.5 1085.7L110.5 1085.2L111.5 1084.9L112.5 1084.5L113.5 1084.1L114.5 1083.8L115.5 1083.5L116.5 1083.2L120.5 1082.0L124.5 1081.0L128.5 1080.0L132.5 1079.1L136.5 1078.3L140.5 1077.5L144.5 1076.7L148.5 1075.9L152.5 1075.2L156.5 1074.4L160.5 1073.7L164.5 1073.0L168.5 1072.3L172.5 1071.6L176.5 1071.0L180.5 1070.3L184.5 1069.6L188.5 1068.9L192.5 1068.3L196.5 1067.6L200.5 1066.9L204.5 1066.3L208.5 1065.6L212.5 1064.9L216.5 1064.3L220.5 1063.6L224.5 1062.9L228.5 1062.3L232.5 1061.6L236.5 1060.9L240.5 1060.2L244.5 1059.6L248.5 1058.9L252.5 1058.2L256.5 1057.5L260.5 1056.8L264.5 1056.1L268.5 1055.4L272.5 1054.7L276.5 1054.0L280.5 1053.3L284.5 1052.6L288.5 1051.9L292.5 1051.2L296.5 1050.5L300.5 1049.7L304.5 1049.0L308.5 1048.3L312.5 1047.6L316.5 1046.8L320.5 1046.1L324.5 1045.3L328.5 1044.6L332.5 1043.8L336.5 1043.1L340.5 1042.3L344.5 1041.6L348.5 1040.8L352.5 1040.0L356.5 1039.2L360.5 1038.5L364.5 1037.7L368.5 1036.9L372.5 1036.1L376.5 1035.3L380.5 1034.5L384.5 1033.7L388.5 1032.9L392.5 1032.1L396.5 1031.3L400.5 1030.5L404.5 1029.6L408.5 1028.8L412.5 1028.0L416.5 1027.2L420.5 1026.3L424.5 1025.5L428.5 1024.7L432.5 1023.8L436.5 1023.0L440.5 1022.1L444.5 1021.3L448.5 1020.4L452.5 1019.5L456.5 1018.7L460.5 1017.8L464.5 1016.9L468.5 1016.1L472.5 1015.2L476.5 1014.3L480.5 1013.4L484.5 1012.5L488.5 1011.6L492.5 1010.7L496.5 1009.8L500.5 1008.9L504.5 1008.0L508.5 1007.0L512.5 1006.1L516.5 1005.2L520.5 1004.2L524.5 1003.2L528.5 1002.2L532.5 1001.3L536.5 1000.3L540.5 999.3L544.5 998.2L548.5 997.2L552.5 996.2L556.5 995.1L560.5 994.1L564.5 993.0L568.5 991.9L572.5 990.8L576.5 989.7L580.5 988.6L584.5 987.4L588.5 986.3L592.5 985.1L596.5 983.9L600.5 982.7L604.5 981.5L608.5 980.2L612.5 979.0L616.5 977.7L620.5 976.5L624.5 975.2L628.5 973.8L632.5 972.5L636.5 971.2L640.5 969.8L644.5 968.4L648.5 967.0L652.5 965.6L656.5 964.1L660.5 962.7L664.5 961.2L664.8 961.1" stroke="#d32622"/>
<path d="M101.4 1146.7L101.6 1146.2L101.7 1145.7L101.9 1145.1L102.0 1144.5L102.2 1143.9L102.3 1143.3L102.7 1141.7L103.1 1140.2L103.5 1138.7L103.9 1137.2L104.3 1135.8L104.7 1134.4L105.1 1133.1L105.5 1131.8L106.5 1128.7L107.5 1125.8L108.5 1123.2L109.5 1120.7L110.5 1118.4L111.5 1116.3L112.5 1114.4L113.5 1112.6L114.5 1110.9L115.5 1109.3L116.5 1107.8L119.5 1103.5L122.5 1099.6L125.5 1096.1L128.5 1092.8L131.5 1089.8L134.5 1087.0L137.5 1084.5L140.5 1082.2L143.5 1080.1L146.5 1078.1L149.5 1076.3L152.5 1074.7L155.5 1073.1L158.5 1071.6L161.5 1070.3L164.5 1069.0L167.5 1067.8L170.5 1066.6L173.5 1065.5L176.5 1064.5L179.5 1063.5L182.5 1062.6L185.5 1061.7L188.5 1060.9L191.5 1060.1L194.5 1059.3L197.5 1058.5L200.5 1057.8L203.5 1057.1L206.5 1056.5L209.5 1055.8L212.5 1055.2L215.5 1054.6L218.5 1054.1L221.5 1053.5L224.5 1053.0L227.5 1052.5L230.5 1052.0L233.5 1051.5L236.5 1051.0L239.5 1050.6L242.5 1050.2L245.5 1049.7L248.5 1049.3L251.5 1048.9L254.5 1048.6L257.5 1048.2L260.5 1047.8L263.5 1047.5L266.5 1047.2L269.5 1046.8L272.5 1046.5L275.5 1046.2L278.5 1045.9L281.5 1045.6L284.5 1045.4L287.5 1045.1L290.5 1044.8L293.5 1044.6L296.5 1044.3L299.5 1044.1L302.5 1043.8L305.5 1043.6L308.5 1043.4L311.5 1043.2L314.5 1043.0L317.5 1042.8L320.5 1042.6L323.5 1042.4L326.5 1042.2L329.5 1042.0L332.5 1041.8L335.5 1041.6L338.5 1041.5L341.5 1041.3L344.5 1041.1L347.5 1041.0L350.5 1040.8L353.5 1040.7L356.5 1040.5L359.5 1040.4L362.5 1040.2L365.5 1040.1L368.5 1039.9L371.5 1039.8L374.5 1039.7L377.5 1039.5L380.5 1039.4L383.5 1039.3L386.5 1039.2L389.5 1039.0L392.5 1038.9L395.5 1038.8L398.5 1038.7L401.5 1038.6L404.5 1038.5L407.5 1038.4L410.5 1038.2L413.5 1038.1L416.5 1038.0L419.5 1037.9L422.5 1037.8L425.5 1037.7L428.5 1037.7L431.5 1037.6L434.5 1037.5L437.5 1037.4L440.5 1037.3L443.5 1037.2L446.5 1037.1L449.5 1037.0L452.5 1036.9L455.5 1036.9L458.5 1036.8L461.5 1036.7L464.5 1036.6L467.5 1036.6L470.5 1036.5L473.5 1036.4L476.5 1036.3L479.5 1036.3L482.5 1036.2L485.5 1036.1L488.5 1036.1L491.5 1036.0L494.5 1035.9L497.5 1035.9L500.5 1035.8L503.5 1035.7L506.5 1035.7L509.5 1035.6L512.5 1035.6L515.5 1035.5L518.5 1035.4L521.5 1035.4L524.5 1035.3L527.5 1035.3L530.5 1035.2L533.5 1035.2L536.5 1035.1L539.5 1035.1L542.5 1035.0L545.5 1035.0L548.5 1034.9L551.5 1034.9L554.5 1034.8L557.5 1034.8L560.5 1034.7L563.5 1034.7L566.5 1034.6L569.5 1034.6L572.5 1034.5L575.5 1034.5L578.5 1034.5L581.5 1034.4L584.5 1034.4L587.5 1034.3L590.5 1034.3L593.5 1034.2L596.5 1034.2L599.5 1034.2L602.5 1034.1L605.5 1034.1L608.5 1034.1L611.5 1034.0L614.5 1034.0L617.5 1033.9L620.5 1033.9L623.5 1033.9L626.5 1033.8L629.5 1033.8L632.5 1033.8L635.5 1033.7L638.5 1033.7L641.5 1033.6L644.5 1033.6L647.5 1033.6L650.5 1033.5L653.5 1033.5L656.5 1033.5L659.5 1033.4L662.5 1033.4L665.5 1033.4L668.5 1033.3L671.5 1033.3L674.5 1033.3L677.5 1033.2L680.5 1033.2L683.5 1033.2L686.5 1033.2L689.5 1033.1L692.5 1033.1L693.8 1033.1" stroke="#272727"/>
</g>
<text x="97.80" y="1153.00" font-size="32.10" fill="#000" text-anchor="end">800</text>
<text x="97.80" y="1113.60" font-size="32.10" fill="#000" text-anchor="end">850</text>
<text x="97.80" y="1074.20" font-size="32.10" fill="#000" text-anchor="end">900</text>
<text x="97.80" y="1034.80" font-size="32.10" fill="#000" text-anchor="end">950</text>
<text x="97.80" y="995.40" font-size="32.10" fill="#000" text-anchor="end">1000</text>
<text x="102.40" y="1192.30" font-size="32.10" fill="#000" text-anchor="middle">1.0</text>
<text x="232.32" y="1192.30" font-size="32.10" fill="#000" text-anchor="middle">1.2</text>
<text x="364.04" y="1192.30" font-size="32.10" fill="#000" text-anchor="middle">1.4</text>
<text x="495.76" y="1192.30" font-size="32.10" fill="#000" text-anchor="middle">1.6</text>
<text x="627.48" y="1192.30" font-size="32.10" fill="#000" text-anchor="middle">1.8</text>
<text x="230.2" y="1225.2" font-size="32.20">In-plane Momentum k/k<tspan font-size="23.00" dy="5.6">0</tspan></text>
</g>
</svg></body></html>
